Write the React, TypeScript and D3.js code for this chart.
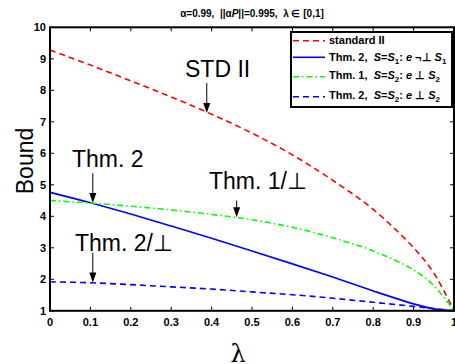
import * as d3 from 'd3';

const lambdas = [0, 0.1, 0.2, 0.3, 0.4, 0.5, 0.6, 0.7, 0.8, 0.9, 0.95, 1];
const stdII = [9.28, 8.8, 8.3, 7.79, 7.24, 6.64, 5.95, 5.14, 4.22, 3.0, 2.2, 1.0];
const thm2S1 = [4.76, 4.43, 4.07, 3.69, 3.3, 2.9, 2.49, 2.07, 1.63, 1.22, 1.06, 1.0];
const thm1S2 = [4.5, 4.42, 4.32, 4.2, 4.06, 3.89, 3.65, 3.32, 2.9, 2.3, 1.8, 1.0];
const thm2S2 = [1.92, 1.89, 1.83, 1.76, 1.69, 1.6, 1.51, 1.4, 1.27, 1.14, 1.07, 1.0];

const xTicks = [0, 0.1, 0.2, 0.3, 0.4, 0.5, 0.6, 0.7, 0.8, 0.9, 1];
const yTicks = [1, 2, 3, 4, 5, 6, 7, 8, 9, 10];

const W = 455;
const H = 364;
const left = 50;
const right = 454;
const top = 27.3;
const bottom = 310.8;

const x = d3.scaleLinear().domain([0, 1]).range([left, right]);
const y = d3.scaleLinear().domain([1, 10]).range([bottom, top]);

const line = d3
  .line<number>()
  .x((_, i) => x(lambdas[i]))
  .y((d) => y(d))
  .curve(d3.curveCatmullRom.alpha(0.5));

const series = [
  { values: stdII, color: '#ff0000', dash: '6,4' },
  { values: thm2S1, color: '#0000ff', dash: '' },
  { values: thm1S2, color: '#00ff00', dash: '6,3,1.5,3' },
  { values: thm2S2, color: '#0000ff', dash: '6,4' },
];

// annotations: label + arrow (in data coords)
const notes = [
  { text: 'STD II', tx: 185, ty: 77, ax: 0.388, from: 8.23, to: 7.28 },
  { text: 'Thm. 2', tx: 72, ty: 167, ax: 0.106, from: 5.37, to: 4.42 },
  { text: 'Thm. 1/⊥', tx: 209, ty: 189, ax: 0.462, from: 4.5, to: 3.97 },
  { text: 'Thm. 2/⊥', tx: 75, ty: 251, ax: 0.106, from: 2.84, to: 1.9 },
];

const font = 'Liberation Sans, Arial, Helvetica, sans-serif';
const pre = { whiteSpace: 'pre' } as const;

function Arrow({ ax, from, to }: { ax: number; from: number; to: number }) {
  const px = x(ax);
  const y0 = y(from);
  const y1 = y(to);
  return (
    <g>
      <line x1={px} x2={px} y1={y0} y2={y1 - 8} stroke="#000" strokeWidth={1} />
      <path d={`M${px - 3.5},${y1 - 10} L${px + 3.5},${y1 - 10} L${px},${y1} Z`} fill="#000" />
    </g>
  );
}

function Sub({ children }: { children: string }) {
  return (
    <tspan fontSize={8} dy={3}>
      {children}
    </tspan>
  );
}

function LegendText({ yPos, head, sub, rel }: { yPos: number; head: string; sub: string; rel: string }) {
  return (
    <text x={329} y={yPos} style={pre}>
      {head + ',  '}
      <tspan fontStyle="italic">S</tspan>=<tspan fontStyle="italic">S</tspan>
      <Sub>{sub}</Sub>
      <tspan dy={-3}>{': '}</tspan>
      <tspan fontStyle="italic">e</tspan>
      <tspan>{' ' + rel + ' '}</tspan>
      <tspan fontStyle="italic">S</tspan>
      <Sub>{sub}</Sub>
    </text>
  );
}

export default function App() {
  return (
    <svg
      width={W}
      height={H}
      style={{ position: 'absolute', left: 0, top: 0, background: '#fff' }}
      fontFamily={font}
    >
      <rect x={0} y={0} width={W} height={H} fill="#fff" />

      <text x={252} y={17} textAnchor="middle" fontSize={10} fontWeight="bold" style={pre}>
        {'α=0.99,  ||α'}
        <tspan fontStyle="italic">P</tspan>
        {'||=0.995,  λ ∈ [0,1]'}
      </text>

      {/* ticks */}
      {xTicks.map((t) => (
        <g key={'x' + t}>
          <line x1={x(t)} x2={x(t)} y1={bottom} y2={bottom - 4} stroke="#000" />
          <line x1={x(t)} x2={x(t)} y1={top} y2={top + 4} stroke="#000" />
          <text x={x(t)} y={325.5} textAnchor="middle" fontSize={11} fontWeight="bold">
            {t}
          </text>
        </g>
      ))}
      {yTicks.map((t) => (
        <g key={'y' + t}>
          <line x1={left} x2={left + 4} y1={y(t)} y2={y(t)} stroke="#000" />
          <line x1={right} x2={right - 4} y1={y(t)} y2={y(t)} stroke="#000" />
          <text x={46} y={y(t) + 4} textAnchor="end" fontSize={11} fontWeight="bold">
            {t}
          </text>
        </g>
      ))}

      {/* curves */}
      {series.map((s, i) => (
        <path
          key={i}
          d={line(s.values) || ''}
          fill="none"
          stroke={s.color}
          strokeWidth={1.6}
          strokeDasharray={s.dash || undefined}
        />
      ))}

      {/* frame */}
      <rect x={left} y={top} width={right - left} height={bottom - top} fill="none" stroke="#000" strokeWidth={2} />

      {/* annotations */}
      {notes.map((n) => (
        <g key={n.text}>
          <text x={n.tx} y={n.ty} fontSize={23}>
            {n.text}
          </text>
          <Arrow ax={n.ax} from={n.from} to={n.to} />
        </g>
      ))}

      {/* legend */}
      <g>
        <rect x={291} y={32} width={161} height={75} fill="#fff" stroke="#000" strokeWidth={2} />
        {series.map((s, i) => {
          const ly = [40.7, 57.3, 76.7, 96.7][i];
          return (
            <line
              key={i}
              x1={293}
              x2={325}
              y1={ly}
              y2={ly}
              stroke={s.color}
              strokeWidth={1.6}
              strokeDasharray={s.dash || undefined}
            />
          );
        })}
        <g fontSize={11} fontWeight="bold">
          <text x={329} y={44}>standard II</text>
          <LegendText yPos={60.5} head="Thm. 2" sub="1" rel="¬⊥" />
          <LegendText yPos={79} head="Thm. 1" sub="2" rel="⊥" />
          <LegendText yPos={99} head="Thm. 2" sub="2" rel="⊥" />
        </g>
      </g>

      {/* axis labels */}
      <text transform="translate(33,161) rotate(-90)" textAnchor="middle" fontSize={23}>
        Bound
      </text>
      <text x={238} y={362} textAnchor="middle" fontSize={24} fontFamily="DejaVu Serif, serif">
        λ
      </text>
    </svg>
  );
}
